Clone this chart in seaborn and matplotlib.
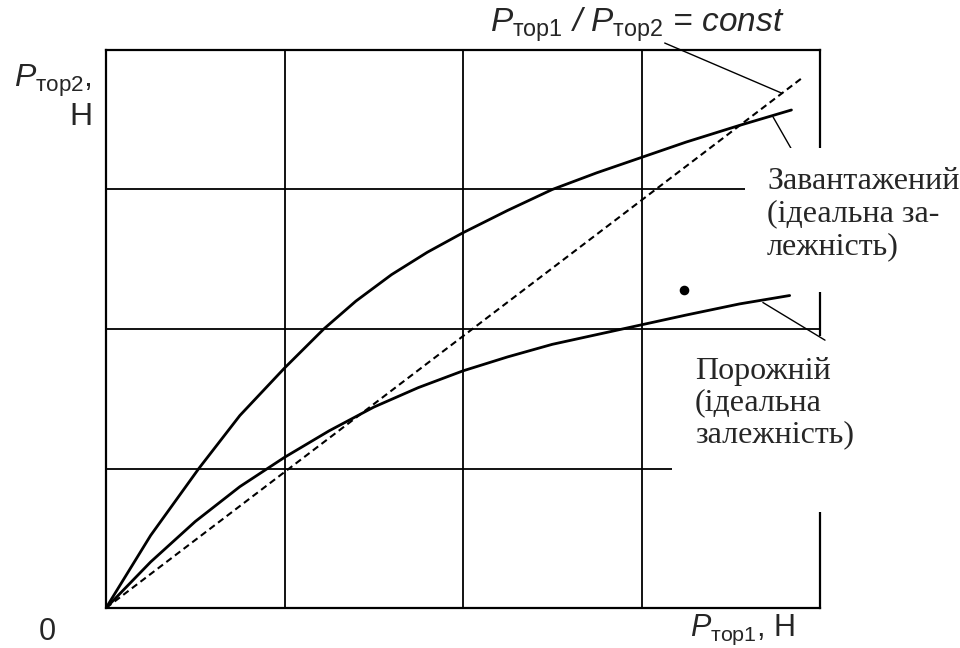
import numpy as np
import pandas as pd
import matplotlib
matplotlib.use('Agg')
import matplotlib.pyplot as plt
from matplotlib.patches import Rectangle
import seaborn as sns

# крива "Завантажений" (ідеальна залежність)
loaded_x = [0, 0.25, 0.52, 0.75, 1.0, 1.22, 1.4, 1.6, 1.8, 2.0, 2.25, 2.5, 2.75, 3.0, 3.25, 3.55, 3.84]
loaded_y = [0, 0.52, 1.00, 1.38, 1.72, 2.00, 2.20, 2.39, 2.55, 2.69, 2.85, 3.00, 3.12, 3.23, 3.34, 3.46, 3.57]

# крива "Порожній" (ідеальна залежність)
empty_x = [0, 0.25, 0.5, 0.75, 1.0, 1.25, 1.5, 1.75, 2.0, 2.25, 2.5, 2.75, 3.0, 3.25, 3.55, 3.83]
empty_y = [0, 0.33, 0.62, 0.87, 1.08, 1.27, 1.44, 1.58, 1.70, 1.80, 1.89, 1.96, 2.03, 2.10, 2.18, 2.24]

# P_тор1 / P_тор2 = const
const_x = [0, 3.9]
const_y = [0, 3.8]

# точка-пляма зі скану
dot_x = [3.24]
dot_y = [2.28]

grid_ticks = [1, 2, 3]

sns.set_theme(style='white')
plt.rcParams['font.family'] = ['Liberation Sans', 'DejaVu Sans']
plt.rcParams['mathtext.fontset'] = 'custom'
plt.rcParams['mathtext.rm'] = 'Liberation Sans'
plt.rcParams['mathtext.it'] = 'Liberation Sans:italic'
plt.rcParams['mathtext.bf'] = 'Liberation Sans:bold'

fig = plt.figure(figsize=(9.6, 6.48), dpi=100)
ax = fig.add_axes([106 / 960, 40 / 648, 714 / 960, 558 / 648])
ax.set_xlim(0, 4)
ax.set_ylim(0, 4)
ax.set_xticks(grid_ticks)
ax.set_yticks(grid_ticks)
ax.tick_params(length=0, labelbottom=False, labelleft=False)
ax.grid(True, color='black', lw=1.3)
for s in ax.spines.values():
    s.set_color('black')
    s.set_linewidth(1.6)

sns.lineplot(x=loaded_x, y=loaded_y, sort=False, estimator=None, color='black', lw=2, ax=ax)
sns.lineplot(x=empty_x, y=empty_y, sort=False, estimator=None, color='black', lw=2, ax=ax)
ax.plot(const_x, const_y, color='black', lw=1.5, linestyle=(0, (3.2, 2.0)))
ax.scatter(dot_x, dot_y, s=35, color='black', zorder=3)

# виноски
ax.plot([3.13, 3.787], [4.05, 3.69], color='black', lw=1.0, clip_on=False, zorder=5)
ax.plot([3.737, 3.843], [3.52, 3.283], color='black', lw=1.0, clip_on=False, zorder=3)
ax.plot([3.68, 4.028], [2.19, 1.92], color='black', lw=1.0, clip_on=False, zorder=5)

# білі підкладки під підписами
ax.add_patch(Rectangle((3.58, 2.265), 1.3, 1.035, facecolor='white', edgecolor='none',
                       clip_on=False, zorder=4))
ax.add_patch(Rectangle((3.17, 0.688), 1.7, 1.262, facecolor='white', edgecolor='none',
                       clip_on=False, zorder=4))

serif = ['Liberation Serif', 'DejaVu Serif']
fig.text(767 / 960, 1 - 167 / 648, 'Завантажений\n(ідеальна за-\nлежність)',
         family=serif, fontsize=23, va='top', ha='left', linespacing=1.16, zorder=6)
fig.text(695 / 960, 1 - 357 / 648, 'Порожній\n(ідеальна\nзалежність)',
         family=serif, fontsize=23, va='top', ha='left', linespacing=1.12, zorder=6)

fig.text(490 / 960, 1 - 32 / 648, r'$P_{\mathrm{тор1}}$ / $P_{\mathrm{тор2}}$ = const',
         fontsize=24, style='italic', va='baseline', ha='left')
fig.text(92 / 960, 1 - 87 / 648, r'$P_{\mathrm{тор2}}$,', fontsize=23, va='baseline', ha='right')
fig.text(92 / 960, 1 - 125 / 648, 'Н', fontsize=23, va='baseline', ha='right')
fig.text(47 / 960, 1 - 640 / 648, '0', fontsize=22, va='baseline', ha='center')
fig.text(690 / 960, 1 - 636 / 648, r'$P_{\mathrm{тор1}}$, Н', fontsize=22, va='baseline', ha='left')

fig.savefig('out.png', dpi=100, facecolor='white')
